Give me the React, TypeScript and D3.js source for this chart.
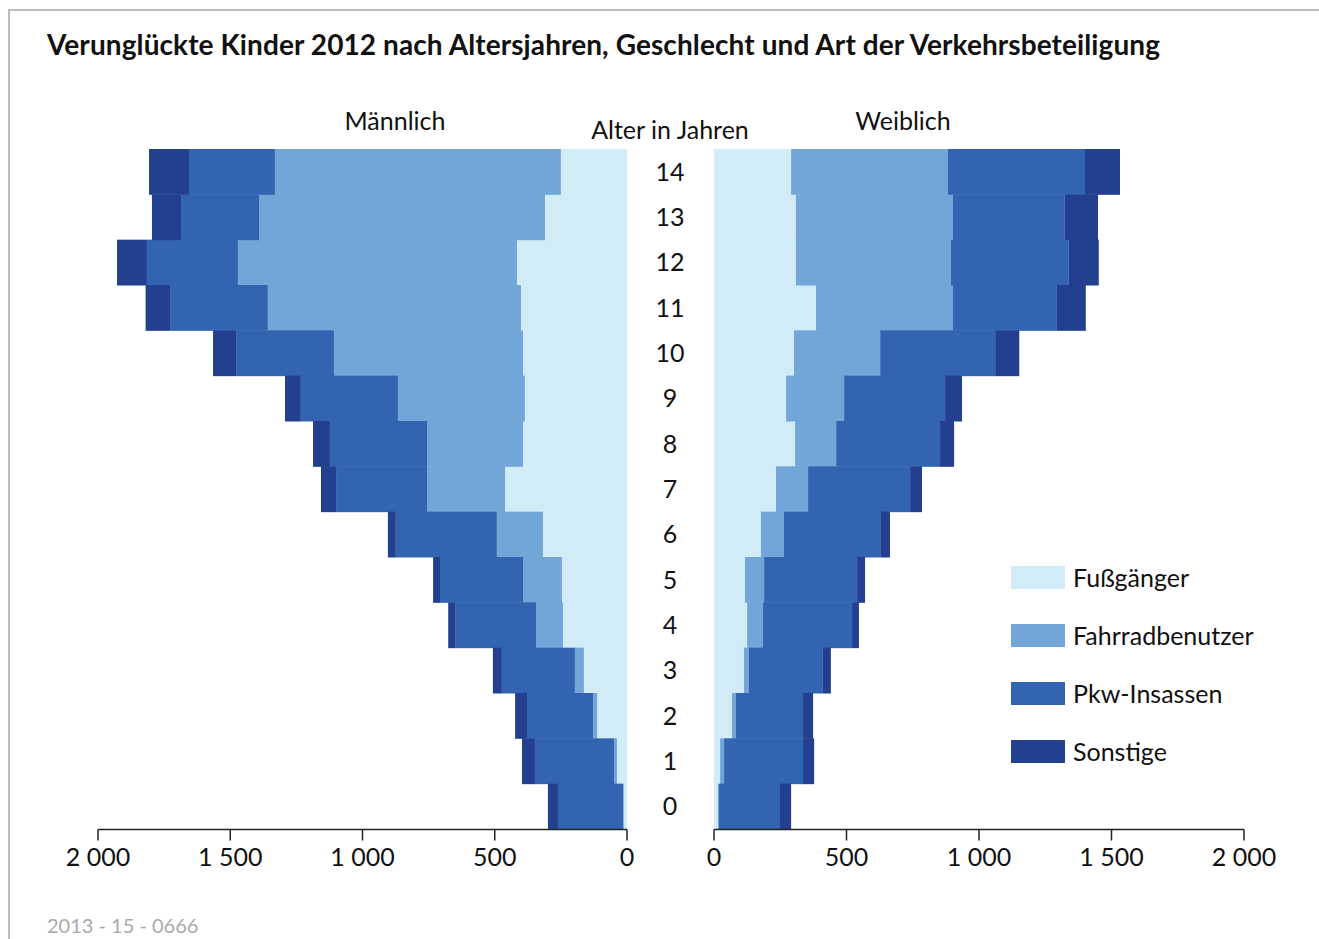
import React from 'react';
import * as d3 from 'd3';

// Alter 0..14
const ages = [0, 1, 2, 3, 4, 5, 6, 7, 8, 9, 10, 11, 12, 13, 14];
const keys = ['fuss', 'fahrrad', 'pkw', 'sonstige'];
const keyLabels = ['Fußgänger', 'Fahrradbenutzer', 'Pkw-Insassen', 'Sonstige'];
const colors = ['#d1ecf7', '#72a6d8', '#3264b1', '#233f8f'];

// Männlich, je Alter 0..14
const maleFuss = [12, 38, 113, 163, 242, 246, 318, 461, 393, 386, 393, 401, 416, 310, 250];
const maleFahrrad = [3, 11, 15, 34, 102, 147, 174, 295, 363, 480, 715, 957, 1055, 1081, 1081];
const malePkw = [246, 299, 250, 276, 306, 314, 382, 344, 367, 367, 370, 367, 344, 295, 325];
const maleSonstige = [38, 49, 45, 34, 26, 26, 30, 57, 64, 60, 87, 95, 113, 110, 151];

// Weiblich, je Alter 0..14
const femaleFuss = [15, 23, 68, 113, 125, 117, 177, 234, 306, 272, 302, 385, 309, 309, 291];
const femaleFahrrad = [4, 15, 15, 19, 60, 72, 87, 121, 155, 219, 325, 517, 585, 592, 592];
const femalePkw = [230, 298, 253, 279, 336, 351, 366, 385, 392, 381, 434, 392, 445, 423, 517];
const femaleSonstige = [42, 42, 38, 30, 26, 30, 34, 45, 53, 64, 91, 109, 113, 125, 132];

const xTicks = [0, 500, 1000, 1500, 2000];

const toRows = (a: number[], b: number[], c: number[], d: number[]) =>
  ages.map((age, i) => ({ age, fuss: a[i], fahrrad: b[i], pkw: c[i], sonstige: d[i] }));

const maleRows = toRows(maleFuss, maleFahrrad, malePkw, maleSonstige);
const femaleRows = toRows(femaleFuss, femaleFahrrad, femalePkw, femaleSonstige);

const fmt = (v: number) => d3.format(',')(v).replace(/,/g, ' ');

const FONT = 'Lato, "Noto Sans", sans-serif';

export default function App() {
  const width = 1319;
  const height = 939;

  const y = d3
    .scaleBand<number>()
    .domain([...ages].reverse())
    .range([149, 829])
    .padding(0);

  const xLeft = d3.scaleLinear().domain([0, 2000]).range([627, 98]);
  const xRight = d3.scaleLinear().domain([0, 2000]).range([714, 1244]);

  const stack = d3.stack<any>().keys(keys);
  const maleStack = stack(maleRows);
  const femaleStack = stack(femaleRows);

  const axisY = 829.5;

  const renderAxis = (x: d3.ScaleLinear<number, number>, id: string) => (
    <g key={id}>
      <line x1={x(0)} x2={x(2000)} y1={axisY} y2={axisY} stroke="#222" strokeWidth={1.5} />
      {xTicks.map(t => (
        <g key={t}>
          <line x1={x(t)} x2={x(t)} y1={axisY} y2={axisY + 11} stroke="#222" strokeWidth={1.5} />
          <text
            x={x(t)}
            y={866}
            textAnchor="middle"
            fontSize={25}
            fill="#111"
          >
            {fmt(t)}
          </text>
        </g>
      ))}
    </g>
  );

  return (
    <svg
      width={width}
      height={height}
      style={{ position: 'absolute', left: 0, top: 0, fontFamily: FONT }}
    >
      <rect x={0} y={0} width={width} height={height} fill="#fff" />
      {/* Rahmen */}
      <rect x={9} y={10} width={1400} height={1100} fill="none" stroke="#bdbdbd" strokeWidth={2} />

      <text x={47} y={55} fontSize={28} fontWeight="bold" fill="#111" textLength={1113} lengthAdjust="spacing">
        Verunglückte Kinder 2012 nach Altersjahren, Geschlecht und Art der Verkehrsbeteiligung
      </text>

      <text x={395} y={130} textAnchor="middle" fontSize={25} fill="#111">Männlich</text>
      <text x={670} y={139} textAnchor="middle" fontSize={25} fill="#111">Alter in Jahren</text>
      <text x={903} y={130} textAnchor="middle" fontSize={25} fill="#111">Weiblich</text>

      {/* Männlich */}
      {maleStack.map((layer, li) => (
        <g key={'m' + li} fill={colors[li]}>
          {layer.map(d => (
            <rect
              key={d.data.age}
              x={xLeft(d[1])}
              y={y(d.data.age)}
              width={xLeft(d[0]) - xLeft(d[1])}
              height={y.bandwidth() + 0.5}
            />
          ))}
        </g>
      ))}

      {/* Weiblich */}
      {femaleStack.map((layer, li) => (
        <g key={'f' + li} fill={colors[li]}>
          {layer.map(d => (
            <rect
              key={d.data.age}
              x={xRight(d[0])}
              y={y(d.data.age)}
              width={xRight(d[1]) - xRight(d[0])}
              height={y.bandwidth() + 0.5}
            />
          ))}
        </g>
      ))}

      {/* Alter */}
      {ages.map(a => (
        <text
          key={a}
          x={670}
          y={(y(a) as number) + y.bandwidth() / 2}
          dy="0.36em"
          textAnchor="middle"
          fontSize={25}
          fill="#111"
        >
          {a}
        </text>
      ))}

      {renderAxis(xLeft, 'left')}
      {renderAxis(xRight, 'right')}

      {/* Legende */}
      {keyLabels.map((label, i) => (
        <g key={label} transform={`translate(1011, ${566 + i * 58})`}>
          <rect width={54} height={23} fill={colors[i]} />
          <text x={62} y={11.5} dy="0.36em" fontSize={25} fill="#111">{label}</text>
        </g>
      ))}

      <text x={47} y={933} fontSize={20} fill="#aaa">2013 - 15 - 0666</text>
    </svg>
  );
}
